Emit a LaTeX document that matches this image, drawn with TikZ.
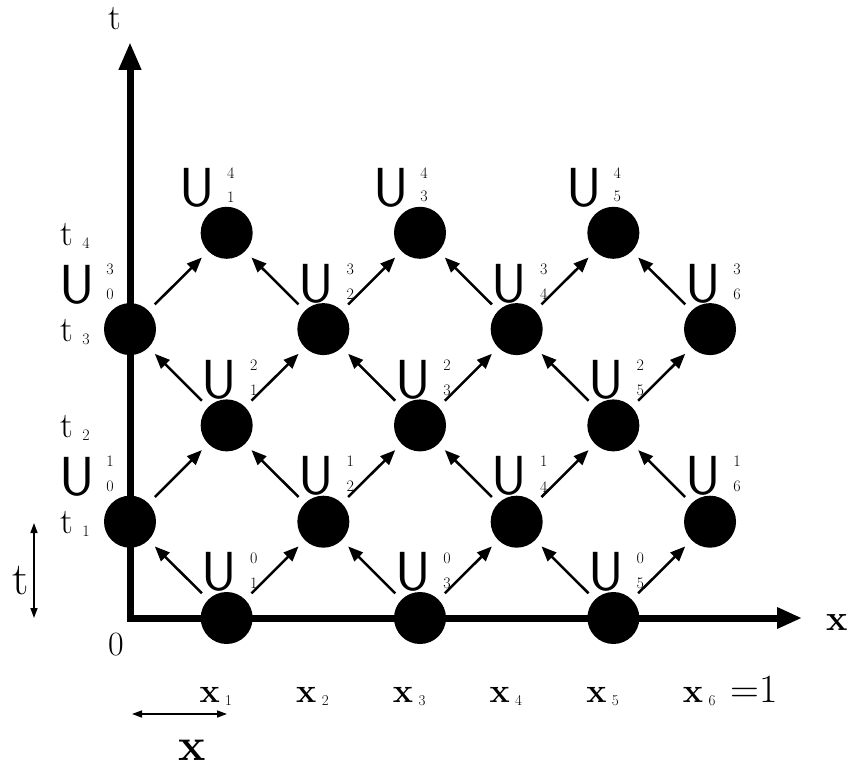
\documentclass[tikz,border=0pt]{standalone}
\usepackage{fontspec}
\usetikzlibrary{arrows.meta}
\newcommand{\ulblfont}{\fontsize{55}{55}\selectfont\sffamily}
\begin{document}
\begin{tikzpicture}[x=1pt,y=-1pt,
  dot/.style={circle, fill=black, minimum size=52pt, inner sep=0pt, outer sep=0pt},
  arr/.style={line width=2.5pt, -{Triangle[length=15pt,width=12pt]}, shorten <=9pt, shorten >=9pt},
  axis/.style={line width=7pt, line join=miter, {Triangle[length=28pt,width=21pt]}-{Triangle[length=25pt,width=20pt]}},
  dbl/.style={line width=1.5pt, {Triangle[length=10pt,width=7pt]}-{Triangle[length=10pt,width=7pt]}},
  ulab/.style={anchor=south, inner sep=0pt, font=\ulblfont},
  idx/.style={inner sep=0pt, font=\fontsize{16}{16}\selectfont},
  tlab/.style={anchor=base west, inner sep=0pt, font=\fontsize{36}{36}\selectfont},
  tsub/.style={anchor=base, inner sep=0pt, font=\fontsize{16}{16}\selectfont},
  xlab/.style={anchor=base, inner sep=0pt, font=\fontsize{34}{34}\selectfont\bfseries},
  xsub/.style={anchor=base, inner sep=0pt, font=\fontsize{15}{15}\selectfont}
]
\useasboundingbox (0,0) rectangle (850,767);

% axes
\coordinate (ytop) at (130,42);
\coordinate (orig) at (130,618);
\coordinate (xend) at (802,618);
\draw[axis] (ytop) -- (orig) -- (xend);

% grid nodes
\foreach \j in {0,...,4} {
  \foreach \i in {0,...,6} {
    \pgfmathtruncatemacro{\pp}{mod(\i+\j,2)}
    \ifnum\pp=1
      \node[dot] (n\i\j) at ({130+96.67*\i},{618-96.3*\j}) {};
    \fi
  }
}

% arrows
\foreach \j in {0,...,3} {
  \foreach \i in {0,...,6} {
    \pgfmathtruncatemacro{\pp}{mod(\i+\j,2)}
    \pgfmathtruncatemacro{\jn}{\j+1}
    \pgfmathtruncatemacro{\il}{\i-1}
    \pgfmathtruncatemacro{\ir}{\i+1}
    \ifnum\pp=1
      \ifnum\i>0 \draw[arr] (n\i\j) -- (n\il\jn); \fi
      \ifnum\i<6 \draw[arr] (n\i\j) -- (n\ir\jn); \fi
    \fi
  }
}

% U labels, rows 0..3, columns 1..6
\foreach \j in {0,...,3} {
  \foreach \i in {1,...,6} {
    \pgfmathtruncatemacro{\pp}{mod(\i+\j,2)}
    \ifnum\pp=1
      \pgfmathsetmacro{\X}{130+96.67*\i}
      \pgfmathsetmacro{\Y}{618-96.3*\j}
      \node[ulab] (u\i\j) at (\X-7,\Y-26) {U};
      \node[idx] (s\i\j) at (\X+27,\Y-60) {\j};
      \node[idx] (b\i\j) at (\X+27,\Y-35) {\i};
    \fi
  }
}

% U labels, top row
\foreach \i in {1,3,5} {
  \pgfmathsetmacro{\X}{130+96.67*\i}
  \pgfmathsetmacro{\Y}{618-96.3*4}
  \node[ulab] (u\i4) at (\X-29,\Y-25) {U};
  \node[idx] (s\i4) at (\X+4,\Y-60) {4};
  \node[idx] (b\i4) at (\X+4,\Y-36) {\i};
}

% column 0 labels
\foreach \j in {1,3} {
  \pgfmathsetmacro{\Y}{618-96.3*\j}
  \pgfmathtruncatemacro{\jn}{\j+1}
  \node[ulab] (u0\j) at (77,\Y-25) {U};
  \node[idx] (s0\j) at (110,\Y-60) {\j};
  \node[idx] (b0\j) at (110,\Y-35) {0};
  \node[tlab] (t\j) at (60,\Y+12) {t};
  \node[tsub] (ts\j) at (86,\Y+15) {\j};
  \node[tlab] (t\jn) at (60,\Y-84) {t};
  \node[tsub] (ts\jn) at (86,\Y-81) {\jn};
}

% x labels
\foreach \i in {1,...,6} {
  \pgfmathsetmacro{\X}{130+96.67*\i}
  \node[xlab] (x\i) at (\X-17,702) {x};
  \node[xsub] (xs\i) at (\X+2,705) {\i};
}
\node[anchor=base west, inner sep=0pt, font=\fontsize{40}{40}\selectfont] (eq1) at (730,702) {=1};

% axis labels
\node[anchor=base, inner sep=0pt, font=\fontsize{36}{36}\selectfont] (tax) at (115,30) {t};
\node[anchor=base, inner sep=0pt, font=\fontsize{36}{36}\selectfont\bfseries] (xax) at (837,630) {x};
\node[anchor=base, inner sep=0pt, font=\fontsize{34}{34}\selectfont] (zero) at (116,655) {0};

% scale arrows
\coordinate (ta) at (34,523);
\coordinate (tb) at (34,618);
\draw[dbl] (ta) -- (tb);
\node[anchor=base, inner sep=0pt, font=\fontsize{46}{46}\selectfont] (dt) at (21,594) {t};
\coordinate (xa) at (132,714);
\coordinate (xb) at (227,714);
\draw[dbl] (xa) -- (xb);
\node[anchor=base, inner sep=0pt, font=\fontsize{46}{46}\selectfont\bfseries] (dx) at (192,760) {x};
\end{tikzpicture}
\end{document}
